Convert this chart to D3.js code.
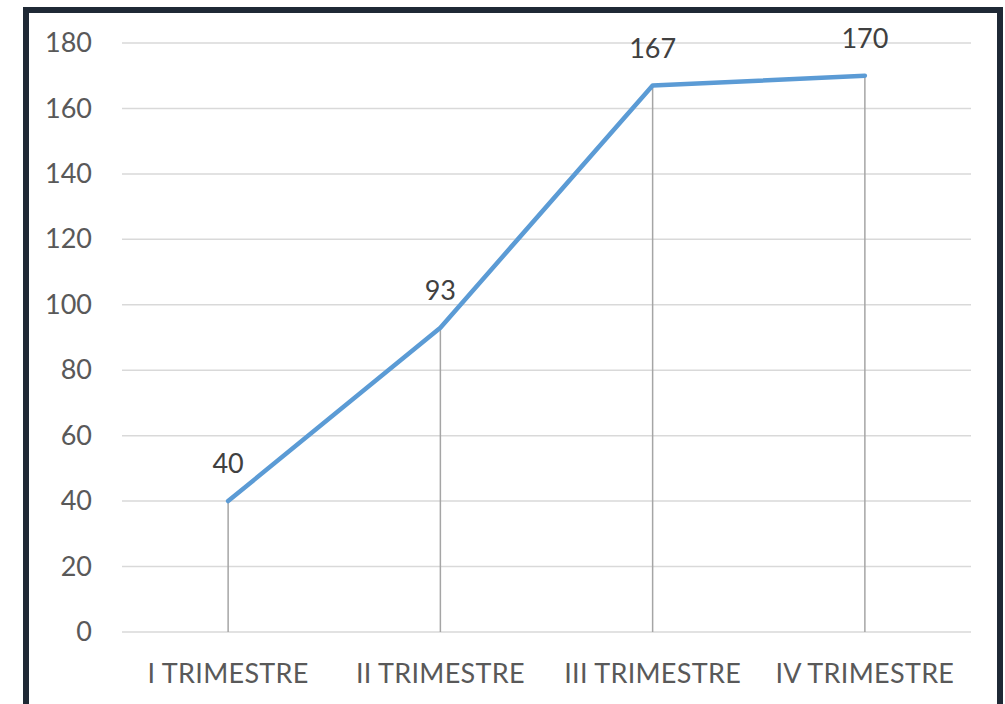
<!DOCTYPE html>
<html>
<head>
<meta charset="utf-8">
<script src="https://cdn.jsdelivr.net/npm/d3@7"></script>
<style>
  body { margin: 0; background: #fff; }
  svg { display: block; }
</style>
</head>
<body>
<div class="chart"></div>
<script>
const categories = ['I TRIMESTRE', 'II TRIMESTRE', 'III TRIMESTRE', 'IV TRIMESTRE'];
const values = [40, 93, 167, 170];
const yTicks = [0, 20, 40, 60, 80, 100, 120, 140, 160, 180];

const W = 1005, H = 704;
const margin = {top: 43, left: 122, right: 34, bottom: 72};
const width = W - margin.left - margin.right;
const height = H - margin.top - margin.bottom;

const svg = d3.select('.chart').append('svg')
  .attr('width', W)
  .attr('height', H);

// frame
svg.append('rect')
  .attr('x', 26).attr('y', 10)
  .attr('width', 974).attr('height', 720)
  .attr('fill', '#fff')
  .attr('stroke', '#1f2935')
  .attr('stroke-width', 6);

const g = svg.append('g')
  .attr('transform', 'translate(' + margin.left + ',' + margin.top + ')');

const x = d3.scaleBand().domain(categories).range([0, width]);
const y = d3.scaleLinear().domain([0, 180]).range([height, 0]);

const font = 'Lato, "Open Sans", sans-serif';

// gridlines
g.selectAll('.grid')
  .data(yTicks)
  .enter()
  .append('line')
  .attr('class', 'grid')
  .attr('x1', 0).attr('x2', width)
  .attr('y1', d => y(d)).attr('y2', d => y(d))
  .attr('stroke', '#d9d9d9')
  .attr('stroke-width', 1.5);

// y axis labels
const yAxis = d3.axisLeft(y).tickValues(yTicks).tickSize(0).tickPadding(30);
g.append('g').call(yAxis)
  .call(a => a.select('.domain').remove())
  .selectAll('text')
  .attr('fill', '#595959')
  .style('font-family', font)
  .style('font-size', '27px');

// x axis labels
const xAxis = d3.axisBottom(x).tickSize(0).tickPadding(32);
g.append('g')
  .attr('transform', 'translate(0,' + height + ')')
  .call(xAxis)
  .call(a => a.select('.domain').remove())
  .selectAll('text')
  .attr('fill', '#595959')
  .style('font-family', font)
  .style('font-size', '27px')
  .style('letter-spacing', '0.3px');

const cx = d => x(d) + x.bandwidth() / 2;

// drop lines
g.selectAll('.drop')
  .data(categories)
  .enter()
  .append('line')
  .attr('class', 'drop')
  .attr('x1', d => cx(d)).attr('x2', d => cx(d))
  .attr('y1', (d, i) => y(values[i]))
  .attr('y2', y(0))
  .attr('stroke', '#a5a5a5')
  .attr('stroke-width', 1.5);

// line
const line = d3.line()
  .x((d, i) => cx(categories[i]))
  .y(d => y(d));

g.append('path')
  .datum(values)
  .attr('d', line)
  .attr('fill', 'none')
  .attr('stroke', '#5b9bd5')
  .attr('stroke-width', 4.5)
  .attr('stroke-linecap', 'round')
  .attr('stroke-linejoin', 'round');

// data labels
g.selectAll('.lbl')
  .data(values)
  .enter()
  .append('text')
  .attr('class', 'lbl')
  .attr('x', (d, i) => cx(categories[i]))
  .attr('y', d => y(d) - 28)
  .attr('text-anchor', 'middle')
  .attr('fill', '#404040')
  .style('font-family', font)
  .style('font-size', '27px')
  .text(d => d);
</script>
</body>
</html>
